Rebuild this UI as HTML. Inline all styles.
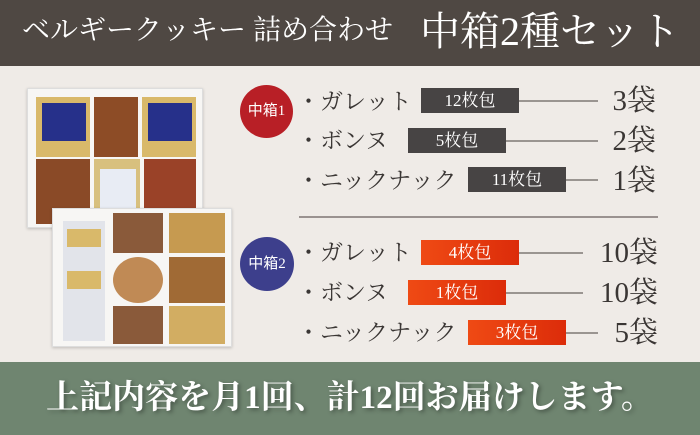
<!DOCTYPE html>
<html><head><meta charset="utf-8"><style>
*{margin:0;padding:0;box-sizing:border-box}
body{width:700px;height:435px;overflow:hidden;background:#efebe7;position:relative;font-family:"Liberation Serif","Noto Serif CJK SC",serif;color:#3a3634}
.a{position:absolute}
.hdr{left:0;top:0;width:700px;height:66px;background:#4f4843;color:#fff}
.ftr{left:0;top:362px;width:700px;height:73px;background:#6f8570;color:#fff;font-size:33px;font-weight:bold;text-align:center;line-height:73px;text-shadow:2px 2px 4px rgba(0,0,0,.35)}
.circ{border-radius:50%;color:#fff;font-size:15px;text-align:center;font-family:"Liberation Serif","Noto Sans CJK JP",sans-serif}
.item{font-size:23px;line-height:28px;white-space:nowrap}
.box{color:#fff;font-size:17px;text-align:center;line-height:25px;height:25px}
.dk{background:#474444}
.rd{background:linear-gradient(90deg,#ef4a14,#dc2c0a)}
.ln{height:1.5px;background:#9a9591}
.num{font-size:29px;line-height:30px;text-align:right}
</style></head><body>
<div class="a hdr">
 <div class="a" style="left:22px;top:14px;font-size:28px;line-height:34px;white-space:nowrap">ベルギークッキー 詰め合わせ</div>
 <div class="a" style="left:420px;top:8px;font-size:40px;line-height:48px;white-space:nowrap">中箱2種セット</div>
</div>

<div class="a" style="left:27px;top:88px;width:176px;height:140px;background:#f7f6f4;border:1px solid #ddd;box-shadow:0 1px 3px rgba(0,0,0,.2)">
 <div class="a" style="left:8px;top:8px;width:54px;height:60px;background:#d9b96a"></div>
 <div class="a" style="left:14px;top:14px;width:44px;height:38px;background:#26308a"></div>
 <div class="a" style="left:66px;top:8px;width:44px;height:60px;background:#8d4c26"></div>
 <div class="a" style="left:114px;top:8px;width:54px;height:60px;background:#d9b96a"></div>
 <div class="a" style="left:120px;top:14px;width:44px;height:38px;background:#26308a"></div>
 <div class="a" style="left:8px;top:70px;width:54px;height:65px;background:#8a4a27"></div>
 <div class="a" style="left:66px;top:70px;width:46px;height:65px;background:#d8c07e"></div>
 <div class="a" style="left:72px;top:80px;width:36px;height:45px;background:#e8ecf4"></div>
 <div class="a" style="left:116px;top:70px;width:52px;height:65px;background:#9a4228"></div>
</div>
<div class="a" style="left:52px;top:208px;width:180px;height:139px;background:#f7f6f4;border:1px solid #ddd;box-shadow:0 1px 3px rgba(0,0,0,.2)">
 <div class="a" style="left:10px;top:12px;width:42px;height:120px;background:#e2e4ea"></div>
 <div class="a" style="left:14px;top:20px;width:34px;height:18px;background:#d9b96a"></div>
 <div class="a" style="left:14px;top:62px;width:34px;height:18px;background:#d9b96a"></div>
 <div class="a" style="left:60px;top:4px;width:50px;height:40px;background:#8a5a3a"></div>
 <div class="a" style="left:60px;top:48px;width:50px;height:46px;background:#c08a55;border-radius:50%"></div>
 <div class="a" style="left:60px;top:97px;width:50px;height:38px;background:#8a5a3a"></div>
 <div class="a" style="left:116px;top:4px;width:56px;height:40px;background:#c69a50"></div>
 <div class="a" style="left:116px;top:48px;width:56px;height:46px;background:#a06a35"></div>
 <div class="a" style="left:116px;top:97px;width:56px;height:38px;background:#d2ad62"></div>
</div>

<div class="a circ" style="left:240px;top:85px;width:53px;height:53px;line-height:53px;background:#b81f26">中箱1</div>
<div class="a item" style="left:297px;top:88px">・ガレット</div>
<div class="a box dk" style="left:421px;top:88px;width:98px">12枚包</div>
<div class="a ln" style="left:519px;top:100px;width:79px"></div>
<div class="a num" style="left:590px;top:86px;width:66px">3袋</div>

<div class="a item" style="left:297px;top:127px">・ボンヌ</div>
<div class="a box dk" style="left:408px;top:128px;width:98px">5枚包</div>
<div class="a ln" style="left:506px;top:140px;width:92px"></div>
<div class="a num" style="left:590px;top:126px;width:66px">2袋</div>

<div class="a item" style="left:297px;top:167px">・ニックナック</div>
<div class="a box dk" style="left:468px;top:167px;width:98px">11枚包</div>
<div class="a ln" style="left:566px;top:179px;width:32px"></div>
<div class="a num" style="left:590px;top:166px;width:66px">1袋</div>

<div class="a" style="left:299px;top:216px;width:359px;height:2px;background:#9a9290"></div>

<div class="a circ" style="left:240px;top:237px;width:54px;height:54px;line-height:54px;background:#3d3f8c">中箱2</div>
<div class="a item" style="left:297px;top:239px">・ガレット</div>
<div class="a box rd" style="left:421px;top:240px;width:98px">4枚包</div>
<div class="a ln" style="left:519px;top:252px;width:64px"></div>
<div class="a num" style="left:580px;top:238px;width:78px">10袋</div>

<div class="a item" style="left:297px;top:279px">・ボンヌ</div>
<div class="a box rd" style="left:408px;top:280px;width:98px">1枚包</div>
<div class="a ln" style="left:506px;top:292px;width:77px"></div>
<div class="a num" style="left:580px;top:278px;width:78px">10袋</div>

<div class="a item" style="left:297px;top:319px">・ニックナック</div>
<div class="a box rd" style="left:468px;top:320px;width:98px">3枚包</div>
<div class="a ln" style="left:566px;top:332px;width:32px"></div>
<div class="a num" style="left:590px;top:318px;width:68px">5袋</div>

<div class="a ftr">上記内容を月1回、計12回お届けします。</div>
</body></html>
